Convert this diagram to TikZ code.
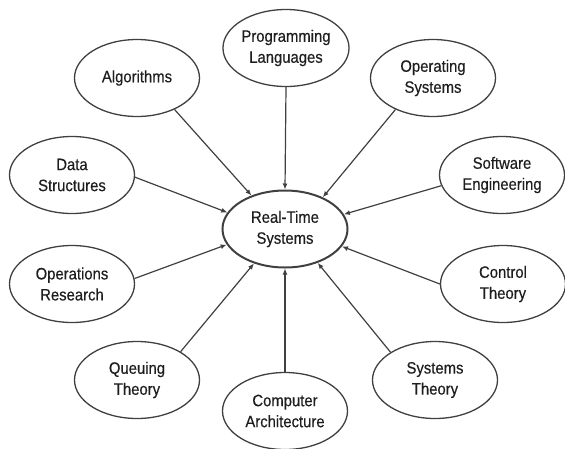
\documentclass[tikz,border=0pt]{standalone}
\usepackage{fontspec}
\setmainfont{Liberation Sans}[FakeStretch=0.9,FakeBold=0.4]
\usetikzlibrary{shapes.geometric,arrows.meta}
\definecolor{linegray}{HTML}{404040}
\definecolor{txt}{HTML}{1E1E1E}
\begin{document}
\begin{tikzpicture}[x=1pt,y=-1pt,
  topic/.style={ellipse,draw=linegray,line width=1.3pt,minimum width=125pt,
    minimum height=77pt,inner sep=0pt,align=center,
    font=\fontsize{16.5}{21}\selectfont,text=txt},
  hub/.style={topic,line width=2pt},
  feed/.style={draw=linegray,line width=1.2pt,-{Latex[length=6pt,width=5pt]}}]
\useasboundingbox (0,0) rectangle (565,448);

% central topic
\node[hub] (rt) at (285,229) {Real-Time\\Systems};

% contributing disciplines
\node[topic] (prog) at (286,48)  {Programming\\Languages};
\node[topic] (alg)  at (137,78)  {Algorithms};
\node[topic] (os)   at (433,78)  {Operating\\Systems};
\node[topic] (data) at (72,175)  {Data\\Structures};
\node[topic] (se)   at (502,175) {Software\\Engineering};
\node[topic] (ops)  at (72,284)  {Operations\\Research};
\node[topic] (ctl)  at (503,284) {Control\\Theory};
\node[topic] (que)  at (137,380) {Queuing\\Theory};
\node[topic] (comp) at (285,411) {Computer\\Architecture};
\node[topic] (sys)  at (435,380) {Systems\\Theory};

% connectors into the central topic
\draw[feed] (prog.south) -- (rt.north);
\draw[feed] (alg.-40)    -- (rt.135);
\draw[feed] (os.-140)    -- (rt.40);
\draw[feed] (data.-2)    -- (rt.164);
\draw[feed] (se.190)     -- (rt.14);
\draw[feed] (ops.5)      -- (rt.195);
\draw[feed] (ctl.180)    -- (rt.-17);
\draw[feed] (que.33)     -- (rt.-132);
\draw[feed] (sys.148)    -- (rt.-46);
\draw[feed] (comp.north) -- (rt.south);
\end{tikzpicture}
\end{document}
